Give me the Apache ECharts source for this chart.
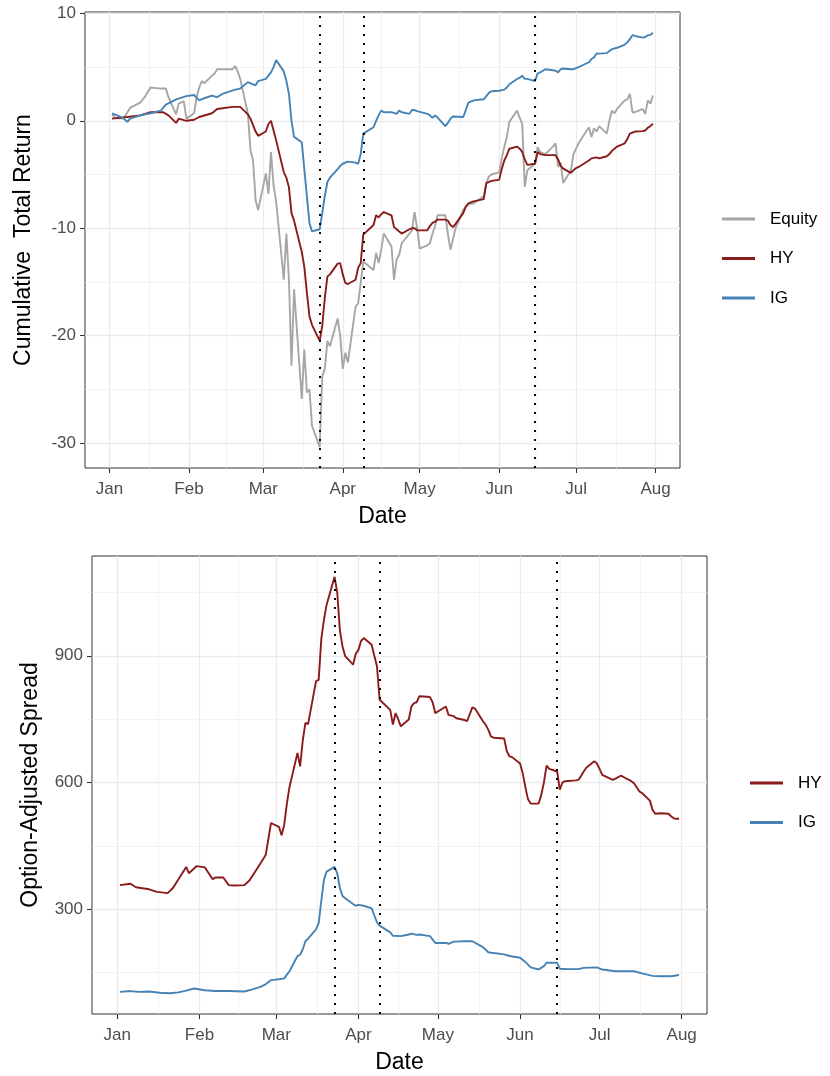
<!DOCTYPE html>
<html><head><meta charset="utf-8">
<script src="https://cdn.jsdelivr.net/npm/echarts@6/dist/echarts.min.js"></script>
<style>html,body{margin:0;padding:0;background:#fff}#c{width:830px;height:1076px}</style>
</head><body><div id="c"></div><script>
// ---------- data (dates as M/D in 2020) ----------
const equityDates = ['1/2','1/3','1/6','1/7','1/9','1/13','1/15','1/17','1/21','1/23','1/24','1/27','1/28','1/30','1/31','2/3','2/4','2/5','2/6','2/7','2/10','2/11','2/12','2/14','2/18','2/19','2/20','2/21','2/24','2/25','2/26','2/27','2/28','3/2','3/3','3/4','3/5','3/6','3/9','3/10','3/11','3/12','3/13','3/16','3/17','3/18','3/19','3/20','3/23','3/24','3/25','3/26','3/27','3/30','3/31','4/1','4/2','4/3','4/6','4/7','4/8','4/9','4/13','4/14','4/15','4/16','4/17','4/20','4/21','4/22','4/23','4/24','4/27','4/28','4/29','4/30','5/1','5/4','5/5','5/6','5/7','5/8','5/11','5/12','5/13','5/14','5/15','5/18','5/19','5/20','5/21','5/22','5/26','5/27','5/28','5/29','6/1','6/2','6/3','6/4','6/5','6/8','6/9','6/10','6/11','6/12','6/15','6/16','6/17','6/18','6/19','6/22','6/23','6/24','6/25','6/26','6/29','6/30','7/1','7/2','7/6','7/7','7/8','7/9','7/10','7/13','7/14','7/15','7/16','7/17','7/20','7/21','7/22','7/23','7/24','7/27','7/28','7/29','7/30','7/31'];
const equityValues = [0.6,0.3,0.2,0.4,1.2,1.7,2.3,3.1,3.0,3.0,2.2,0.6,1.6,1.8,0.2,0.7,2.2,3.1,3.7,3.5,4.2,4.4,4.8,4.8,4.8,5.1,4.6,3.9,0.65,-2.75,-3.7,-7.4,-8.3,-4.9,-6.8,-2.9,-6.0,-7.5,-14.8,-10.5,-14.8,-22.8,-15.7,-25.9,-21.3,-25.3,-25.0,-28.4,-30.4,-23.8,-23.1,-20.5,-21.0,-18.4,-20.0,-23.1,-21.6,-22.5,-17.3,-17.0,-15.1,-13.1,-13.9,-12.3,-13.25,-12.0,-10.5,-11.7,-14.8,-12.9,-12.5,-11.4,-10.5,-10.2,-8.5,-10.0,-11.9,-11.6,-11.4,-10.5,-9.8,-8.8,-8.8,-10.5,-12.0,-11.0,-10.0,-8.3,-8.0,-7.8,-7.7,-7.7,-7.0,-5.8,-5.2,-5.0,-4.8,-3.5,-2.45,-1.5,-0.1,0.95,0.3,-0.3,-6.15,-4.6,-4.0,-2.45,-2.9,-3.0,-3.1,-2.4,-2.1,-4.3,-3.9,-5.8,-4.6,-3.1,-2.6,-2.1,-0.6,-1.5,-0.7,-1.0,-0.5,-1.2,0.0,0.95,0.7,1.1,1.9,2.0,2.5,0.8,0.8,1.1,0.65,1.9,1.6,2.35];

const hyReturnDates = ['1/2','1/8','1/13','1/17','1/22','1/24','1/27','1/28','1/31','2/3','2/5','2/10','2/12','2/18','2/21','2/24','2/25','2/26','2/27','2/28','3/2','3/3','3/4','3/5','3/6','3/9','3/10','3/11','3/12','3/13','3/16','3/17','3/18','3/19','3/20','3/23','3/24','3/25','3/26','3/27','3/30','3/31','4/1','4/2','4/3','4/6','4/7','4/8','4/9','4/13','4/14','4/15','4/16','4/17','4/20','4/21','4/22','4/23','4/24','4/27','4/28','4/29','4/30','5/1','5/4','5/5','5/6','5/7','5/8','5/11','5/12','5/13','5/14','5/15','5/18','5/19','5/20','5/22','5/26','5/27','5/29','6/1','6/2','6/3','6/4','6/5','6/8','6/9','6/10','6/11','6/12','6/15','6/16','6/17','6/19','6/22','6/23','6/24','6/25','6/26','6/29','6/30','7/1','7/2','7/6','7/7','7/9','7/10','7/13','7/14','7/15','7/16','7/17','7/20','7/21','7/22','7/24','7/27','7/28','7/29','7/30','7/31'];
const hyReturnValues = [0.2,0.35,0.5,0.8,0.8,0.5,-0.2,0.2,0.0,0.1,0.35,0.7,1.1,1.3,1.3,0.6,0.2,-0.4,-1.0,-1.4,-1.0,-0.3,0.0,-0.9,-1.8,-4.8,-5.3,-6.2,-8.6,-9.3,-12.2,-13.6,-16.0,-18.2,-19.0,-20.5,-19.1,-16.5,-14.5,-14.3,-13.3,-13.25,-14.3,-15.1,-15.2,-14.8,-13.7,-13.25,-10.6,-9.7,-8.8,-9.0,-8.7,-8.5,-8.8,-9.9,-10.1,-10.3,-10.5,-10.1,-10.0,-10.0,-10.2,-10.2,-10.2,-9.8,-9.5,-9.4,-9.2,-9.2,-9.3,-9.7,-9.9,-9.6,-8.6,-8.0,-7.7,-7.5,-7.3,-5.8,-5.6,-5.5,-4.5,-3.7,-3.2,-2.6,-2.4,-2.6,-2.9,-3.6,-4.1,-4.0,-2.9,-3.1,-3.2,-3.2,-3.2,-3.6,-4.2,-4.45,-4.85,-4.6,-4.4,-4.3,-3.7,-3.5,-3.4,-3.5,-3.3,-3.1,-2.8,-2.6,-2.4,-2.1,-1.7,-1.2,-1.0,-0.96,-0.9,-0.65,-0.5,-0.28];

const igReturnDates = ['1/2','1/3','1/6','1/8','1/9','1/13','1/17','1/21','1/23','1/27','1/31','2/3','2/5','2/7','2/10','2/12','2/14','2/19','2/21','2/24','2/26','2/27','2/28','3/2','3/3','3/4','3/5','3/6','3/9','3/10','3/11','3/12','3/13','3/16','3/17','3/18','3/19','3/20','3/23','3/24','3/25','3/26','3/27','3/30','3/31','4/1','4/2','4/3','4/6','4/7','4/8','4/9','4/13','4/14','4/15','4/16','4/17','4/20','4/22','4/23','4/24','4/27','4/28','4/29','4/30','5/4','5/5','5/6','5/7','5/8','5/11','5/12','5/13','5/14','5/18','5/19','5/20','5/22','5/26','5/27','5/28','5/29','6/1','6/3','6/4','6/5','6/8','6/9','6/10','6/11','6/12','6/15','6/16','6/17','6/19','6/22','6/23','6/24','6/25','6/26','6/29','6/30','7/1','7/2','7/6','7/7','7/8','7/9','7/10','7/13','7/14','7/15','7/17','7/20','7/21','7/22','7/23','7/24','7/27','7/28','7/29','7/30','7/31'];
const igReturnValues = [0.7,0.6,0.3,-0.1,0.2,0.5,0.7,0.95,1.5,2.0,2.3,2.4,1.9,2.1,2.35,2.2,2.5,2.9,3.0,3.6,3.4,3.3,3.7,3.9,4.2,4.5,5.0,5.65,4.6,3.7,2.5,0.0,-1.5,-2.0,-4.5,-7.0,-9.5,-10.3,-10.1,-8.6,-7.0,-5.7,-5.3,-4.5,-4.2,-4.0,-3.9,-3.8,-3.9,-4.0,-3.1,-1.2,-0.6,0.0,0.5,0.95,0.8,0.8,0.65,0.95,0.8,0.65,1.0,1.0,0.9,0.65,0.5,0.28,0.5,0.3,-0.5,-0.2,0.2,0.4,0.35,1.0,1.7,1.9,2.0,2.3,2.6,2.75,2.8,2.9,3.1,3.4,3.9,4.0,4.2,3.9,3.9,3.7,4.4,4.5,4.8,4.7,4.66,4.5,4.8,4.87,4.8,4.8,4.9,5.0,5.45,5.75,5.9,6.27,6.25,6.3,6.5,6.67,6.8,7.1,7.3,7.6,7.97,7.9,7.75,7.8,7.97,8.0,8.2];

const hySpreadDates = ['1/2','1/6','1/8','1/13','1/16','1/20','1/22','1/27','1/28','1/31','2/3','2/6','2/7','2/10','2/12','2/14','2/18','2/20','2/24','2/26','2/28','3/2','3/3','3/4','3/5','3/6','3/9','3/10','3/11','3/12','3/13','3/16','3/17','3/18','3/19','3/20','3/23','3/24','3/25','3/26','3/27','3/30','3/31','4/1','4/2','4/3','4/6','4/7','4/8','4/9','4/13','4/14','4/15','4/16','4/17','4/20','4/21','4/22','4/23','4/24','4/27','4/28','4/29','4/30','5/1','5/4','5/5','5/7','5/8','5/11','5/12','5/14','5/15','5/18','5/19','5/20','5/21','5/22','5/26','5/27','5/28','5/29','6/1','6/2','6/3','6/4','6/5','6/8','6/9','6/10','6/11','6/12','6/15','6/16','6/17','6/18','6/22','6/23','6/24','6/25','6/26','6/29','6/30','7/1','7/2','7/6','7/7','7/9','7/10','7/13','7/14','7/16','7/17','7/20','7/21','7/22','7/24','7/27','7/28','7/29','7/30','7/31'];
const hySpreadValues = [357,360,352,347,341,338,350,400,385,402,399,371,375,375,357,356,357,369,408,428,504,495,475,500,550,590,670,638,700,741,738,840,843,940,986,1021,1087,1050,960,922,899,879,905,914,935,942,926,900,875,796,772,737,764,750,733,749,780,788,790,804,803,802,790,764,768,780,760,757,752,748,745,778,775,745,737,725,709,706,704,674,662,660,645,622,589,560,550,550,570,600,640,632,626,583,600,603,605,606,615,626,635,650,645,632,618,606,609,616,613,603,598,579,575,557,535,526,527,526,520,515,514,514];

const igSpreadDates = ['1/2','1/6','1/9','1/13','1/17','1/21','1/24','1/27','1/30','2/3','2/7','2/12','2/18','2/21','2/24','2/26','2/28','3/2','3/4','3/5','3/6','3/9','3/10','3/11','3/12','3/13','3/16','3/17','3/18','3/19','3/20','3/23','3/24','3/25','3/26','3/27','3/30','3/31','4/1','4/3','4/6','4/7','4/8','4/9','4/13','4/14','4/17','4/20','4/21','4/23','4/24','4/28','4/30','5/4','5/5','5/7','5/11','5/14','5/18','5/20','5/22','5/26','5/28','6/1','6/3','6/5','6/8','6/10','6/11','6/15','6/16','6/19','6/23','6/25','6/30','7/2','7/7','7/14','7/17','7/21','7/24','7/28','7/31'];
const igSpreadValues = [104,106,104,105,102,101,103,107,112,108,106,106,105,110,116,122,132,134,136,145,153,189,192,205,224,230,252,267,320,370,389,400,385,350,331,326,312,308,310,308,302,285,269,261,245,237,236,240,242,239,240,236,220,220,218,223,224,224,210,198,196,193,189,185,175,162,157,165,173,173,159,158,158,161,162,157,153,153,148,142,141,141,144];

const monthStarts = ['1/1','2/1','3/1','4/1','5/1','6/1','7/1','8/1'];
const monthLabels = ['Jan','Feb','Mar','Apr','May','Jun','Jul','Aug'];
const eventDates = ['3/23','4/9','6/15'];
const returnTicks = [-30,-20,-10,0,10];
const spreadTicks = [300,600,900];
const seriesNames = ['Equity','HY','IG'];
const colors = {Equity:'#A6A6A6', HY:'#8B1A1A', IG:'#4682B4'};

// ---------- helpers ----------
const FONT = '"Liberation Sans", Arial, Helvetica, sans-serif';
const dayOf = s => { const p = s.split('/').map(Number); return (Date.UTC(2020,p[0]-1,p[1]) - Date.UTC(2020,0,1)) / 864e5; };
const pairs = (ds, vs) => ds.map((d,i) => [dayOf(d), vs[i]]);
const majorX = monthStarts.map(dayOf);
const minorX = majorX.slice(1).map((v,i) => (v + majorX[i]) / 2);
function minorsOf(t){ const st = t[1]-t[0]; const ext = [t[0]-st].concat(t, [t[t.length-1]+st]); return ext.slice(1).map((v,i)=>(v+ext[i])/2); }
function expand(vals){ const mn = Math.min(...vals), mx = Math.max(...vals), r = mx - mn; return [mn - 0.05*r, mx + 0.05*r]; }

const allDays = [].concat(equityDates, hyReturnDates, igReturnDates, hySpreadDates, igSpreadDates).map(dayOf);
const xExt = expand(allDays);
const retExt = expand([].concat(equityValues, hyReturnValues, igReturnValues));
const sprExt = expand([].concat(hySpreadValues, igSpreadValues));

const tickLabel = {color:'#4D4D4D', fontSize:17, fontFamily:FONT};
const titleStyle = {color:'#000', fontSize:23, fontFamily:FONT};
const majorSplit = {show:true, lineStyle:{color:'#EBEBEB', width:1.3}};
const minorSplit = {show:true, lineStyle:{color:'#F0F0F0', width:0.8}};
const tick = vals => ({show:true, customValues: vals, length:5, inside:false, lineStyle:{color:'#333333', width:1.1}});
const noLine = {show:false, onZero:false};

function xAxes(g){
  return [
    {gridIndex:g, type:'value', position:'bottom', min:xExt[0], max:xExt[1], axisLine:noLine,
     axisTick: tick(majorX),
     axisLabel: Object.assign({customValues: majorX, margin:13,
        formatter: v => { const i = majorX.findIndex(m => Math.abs(m - v) < 0.01); return i >= 0 ? monthLabels[i] : ''; }}, tickLabel),
     splitLine: majorSplit, z:2,
     name:'Date', nameLocation:'middle', nameGap:37, nameTextStyle: titleStyle},
    {gridIndex:g, type:'value', min:xExt[0], max:xExt[1], position:'bottom', axisLine:noLine,
     axisTick:{show:false, customValues: minorX}, axisLabel:{show:false}, splitLine: minorSplit, z:1}
  ];
}
function yAxes(g, ext, ticks, name){
  return [
    {gridIndex:g, type:'value', position:'left', min:ext[0], max:ext[1], axisLine:noLine,
     axisTick: tick(ticks),
     axisLabel: Object.assign({customValues: ticks, margin:9}, tickLabel),
     splitLine: majorSplit, z:2,
     name:name, nameLocation:'middle', nameGap:50, nameTextStyle: titleStyle},
    {gridIndex:g, type:'value', min:ext[0], max:ext[1], position:'left', axisLine:noLine,
     axisTick:{show:false, customValues: minorsOf(ticks)}, axisLabel:{show:false}, splitLine: minorSplit, z:1}
  ];
}

const vlines = {
  silent:true, symbol:['none','none'], label:{show:false}, animation:false,
  lineStyle:{color:'#000', type:[2,7], width:2, cap:'butt'},
  emphasis:{disabled:true},
  data: eventDates.map(d => ({xAxis: dayOf(d)}))
};

function line(name, data, xi, yi, withMarks){
  const s = {name, type:'line', data, xAxisIndex:xi, yAxisIndex:yi, showSymbol:false, symbol:'none',
    lineStyle:{color:colors[name], width:1.9}, itemStyle:{color:colors[name]}, animation:false, z:3,
    emphasis:{disabled:true}};
  if (withMarks) s.markLine = vlines;
  return s;
}

const legendBase = {orient:'vertical', icon:'rect', itemWidth:33, itemHeight:3, itemGap:21.5, selectedMode:false, padding:0,
  textStyle:{color:'#000', fontSize:17, fontFamily:FONT, lineHeight:18, padding:[0,0,0,10]}};

const option = {
  backgroundColor:'#fff',
  animation:false,
  grid:[
    {left:85, top:12, width:595, height:456, show:true, borderColor:'#333333', borderWidth:1, backgroundColor:'transparent'},
    {left:92, top:556, width:615, height:458, show:true, borderColor:'#333333', borderWidth:1, backgroundColor:'transparent'}
  ],
  xAxis: xAxes(0).concat(xAxes(1)),
  yAxis: yAxes(0, retExt, returnTicks, 'Cumulative  Total Return').concat(yAxes(1, sprExt, spreadTicks, 'Option-Adjusted Spread')),
  legend:[
    Object.assign({left:722, top:210, data: seriesNames}, legendBase),
    Object.assign({left:750, top:774, data: ['HY','IG']}, legendBase)
  ],
  series:[
    line('Equity', pairs(equityDates, equityValues), 0, 0, false),
    line('HY', pairs(hyReturnDates, hyReturnValues), 0, 0, false),
    line('IG', pairs(igReturnDates, igReturnValues), 0, 0, true),
    line('HY', pairs(hySpreadDates, hySpreadValues), 2, 2, false),
    line('IG', pairs(igSpreadDates, igSpreadValues), 2, 2, true)
  ]
};
const chart = echarts.init(document.getElementById('c'), null, {renderer:'canvas'});
chart.setOption(option);
</script></body></html>
